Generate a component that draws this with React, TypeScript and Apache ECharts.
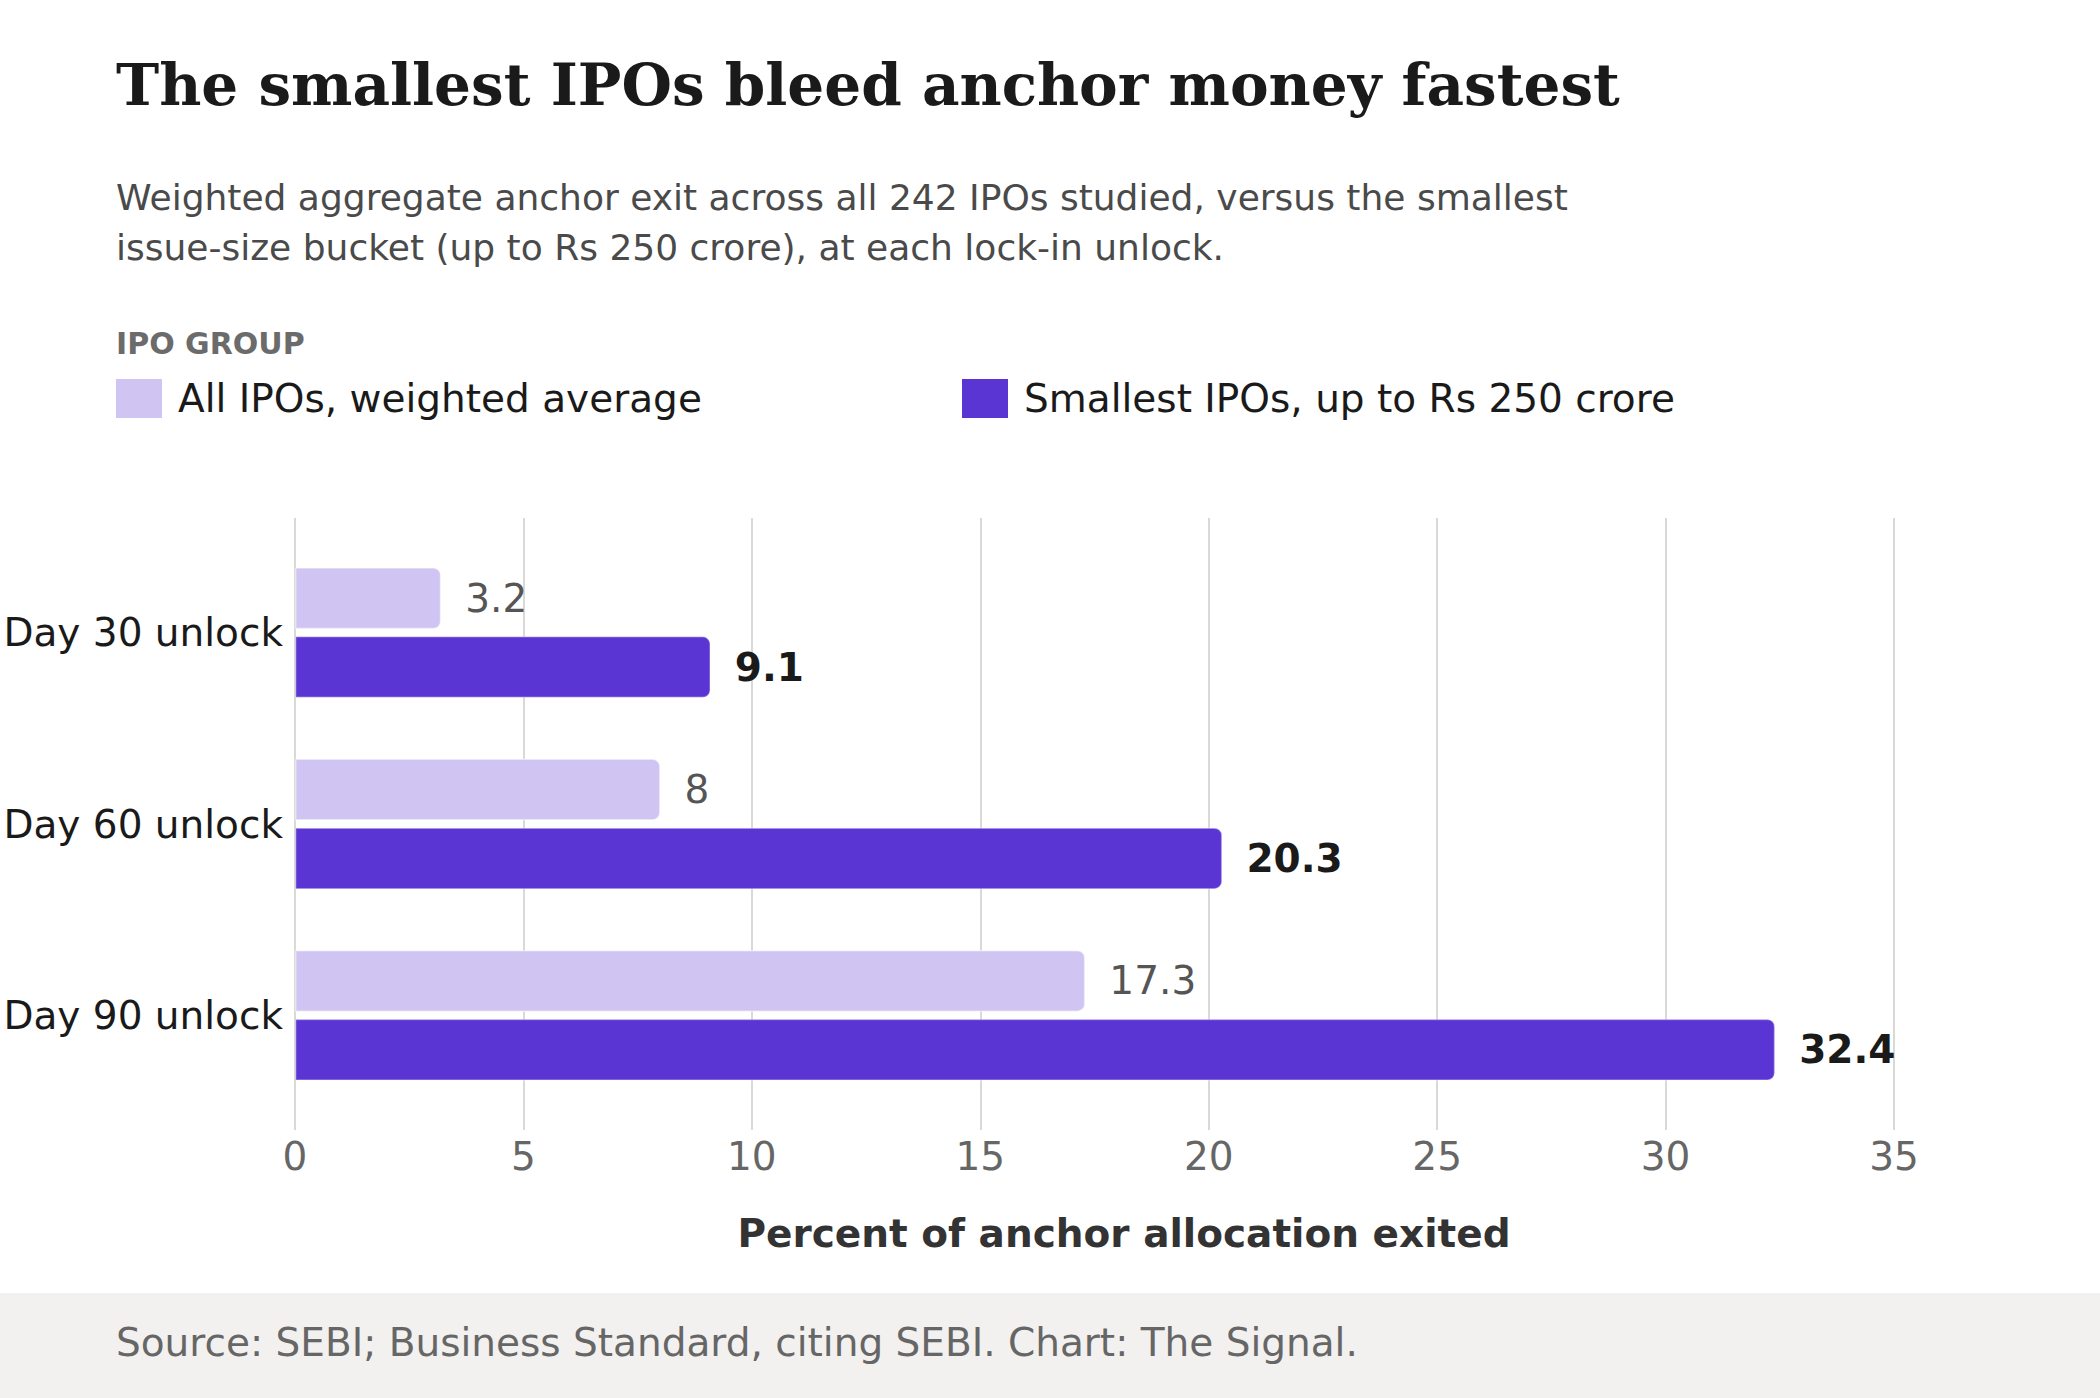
import React, { useEffect, useRef } from "react";
import * as echarts from "echarts";

const categories = ["Day 30 unlock", "Day 60 unlock", "Day 90 unlock"];
const seriesNames = ["All IPOs, weighted average", "Smallest IPOs, up to Rs 250 crore"];
const allIpos = [3.2, 8, 17.3];
const smallestIpos = [9.1, 20.3, 32.4];
const xMin = 0;
const xMax = 35;
const xInterval = 5;

const titleText = "The smallest IPOs bleed anchor money fastest";
const subtitleLines = [
  "Weighted aggregate anchor exit across all 242 IPOs studied, versus the smallest",
  "issue-size bucket (up to Rs 250 crore), at each lock-in unlock.",
];
const legendTitle = "IPO GROUP";
const axisTitle = "Percent of anchor allocation exited";
const sourceText = "Source: SEBI; Business Standard, citing SEBI. Chart: The Signal.";

const SANS = "'DejaVu Sans', Verdana, sans-serif";
const SERIF = "'DejaVu Serif', Georgia, serif";
const LIGHT = "#d0c5f2";
const DARK = "#5a35d4";

export default function App() {
  const ref = useRef<HTMLDivElement>(null);

  useEffect(() => {
    document.body.style.margin = "0";
    if (!ref.current) return;
    const chart = echarts.init(ref.current, undefined, { renderer: "svg" });

    const legendBase = {
      itemWidth: 46,
      itemHeight: 39,
      icon: "rect",
      padding: 0,
      selectedMode: false,
      itemStyle: { borderWidth: 0 },
      textStyle: {
        fontSize: 39,
        color: "#1a1a1a",
        fontFamily: SANS,
        padding: [0, 0, 6, 11],
      },
    };

    chart.setOption({
      animation: false,
      backgroundColor: "#ffffff",
      textStyle: { fontFamily: SANS },
      legend: [
        { ...legendBase, data: [seriesNames[0]], left: 116, top: 379 },
        { ...legendBase, data: [seriesNames[1]], left: 962, top: 379 },
      ],
      grid: [
        { left: 295, right: 206, top: 537, height: 574, containLabel: false },
        { left: 295, right: 206, top: 518, height: 612, containLabel: false },
      ],
      xAxis: [
        {
          gridIndex: 0,
          type: "value",
          min: xMin,
          max: xMax,
          interval: xInterval,
          show: false,
        },
        {
          gridIndex: 1,
          type: "value",
          min: xMin,
          max: xMax,
          interval: xInterval,
          axisLine: { show: false },
          axisTick: { show: false },
          splitLine: { show: true, lineStyle: { color: "#d9d9d5", width: 2 } },
          axisLabel: {
            fontSize: 39,
            color: "#666666",
            fontFamily: SANS,
            margin: 7,
          },
        },
      ],
      yAxis: [
        {
          gridIndex: 0,
          type: "category",
          data: categories,
          inverse: true,
          axisLine: { show: false },
          axisTick: { show: false },
          splitLine: { show: false },
          axisLabel: {
            fontSize: 39,
            color: "#1a1a1a",
            fontFamily: SANS,
            margin: 12,
          },
        },
        {
          gridIndex: 1,
          type: "value",
          show: false,
          min: 0,
          max: 1,
        },
      ],
      series: [
        {
          name: seriesNames[0],
          type: "bar",
          xAxisIndex: 0,
          yAxisIndex: 0,
          data: allIpos,
          barWidth: 62,
          barGap: "11%",
          itemStyle: {
            color: LIGHT,
            borderRadius: [0, 7, 7, 0],
            borderColor: "rgba(255,255,255,0.45)",
            borderWidth: 1.5,
          },
          label: {
            show: true,
            position: "right",
            distance: 24,
            fontSize: 39,
            color: "#555555",
            fontFamily: SANS,
            formatter: "{c}",
          },
        },
        {
          name: seriesNames[1],
          type: "bar",
          xAxisIndex: 0,
          yAxisIndex: 0,
          data: smallestIpos,
          barWidth: 62,
          barGap: "11%",
          itemStyle: {
            color: DARK,
            borderRadius: [0, 7, 7, 0],
            borderColor: "rgba(255,255,255,0.3)",
            borderWidth: 1.5,
          },
          label: {
            show: true,
            position: "right",
            distance: 24,
            fontSize: 39,
            fontWeight: "bold",
            color: "#1a1a1a",
            fontFamily: SANS,
            formatter: "{c}",
          },
        },
      ],
      graphic: [
        {
          type: "rect",
          left: 0,
          top: 1293,
          shape: { x: 0, y: 0, width: 2100, height: 105 },
          style: { fill: "#f2f1ef" },
          silent: true,
        },
        {
          type: "text",
          x: 116,
          y: 85,
          style: {
            text: titleText,
            fontFamily: SERIF,
            fontWeight: "bold",
            fontSize: 58,
            fill: "#1a1a1a",
            textAlign: "left",
            textVerticalAlign: "middle",
          },
        },
        {
          type: "text",
          x: 116,
          y: 197.5,
          style: {
            text: subtitleLines[0],
            fontFamily: SANS,
            fontSize: 36,
            fill: "#4a4a4a",
            textAlign: "left",
            textVerticalAlign: "middle",
          },
        },
        {
          type: "text",
          x: 116,
          y: 247,
          style: {
            text: subtitleLines[1],
            fontFamily: SANS,
            fontSize: 36,
            fill: "#4a4a4a",
            textAlign: "left",
            textVerticalAlign: "middle",
          },
        },
        {
          type: "text",
          x: 116,
          y: 343.5,
          style: {
            text: legendTitle,
            fontFamily: SANS,
            fontWeight: "bold",
            fontSize: 30,
            fill: "#6b6b6b",
            textAlign: "left",
            textVerticalAlign: "middle",
          },
        },
        {
          type: "text",
          x: 1124,
          y: 1233,
          style: {
            text: axisTitle,
            fontFamily: SANS,
            fontWeight: "bold",
            fontSize: 39,
            fill: "#333333",
            textAlign: "center",
            textVerticalAlign: "middle",
          },
        },
        {
          type: "text",
          x: 116,
          y: 1342.5,
          style: {
            text: sourceText,
            fontFamily: SANS,
            fontSize: 39,
            fill: "#666666",
            textAlign: "left",
            textVerticalAlign: "middle",
          },
        },
      ],
    });

    return () => {
      chart.dispose();
    };
  }, []);

  return <div ref={ref} style={{ width: 2100, height: 1398 }} />;
}
